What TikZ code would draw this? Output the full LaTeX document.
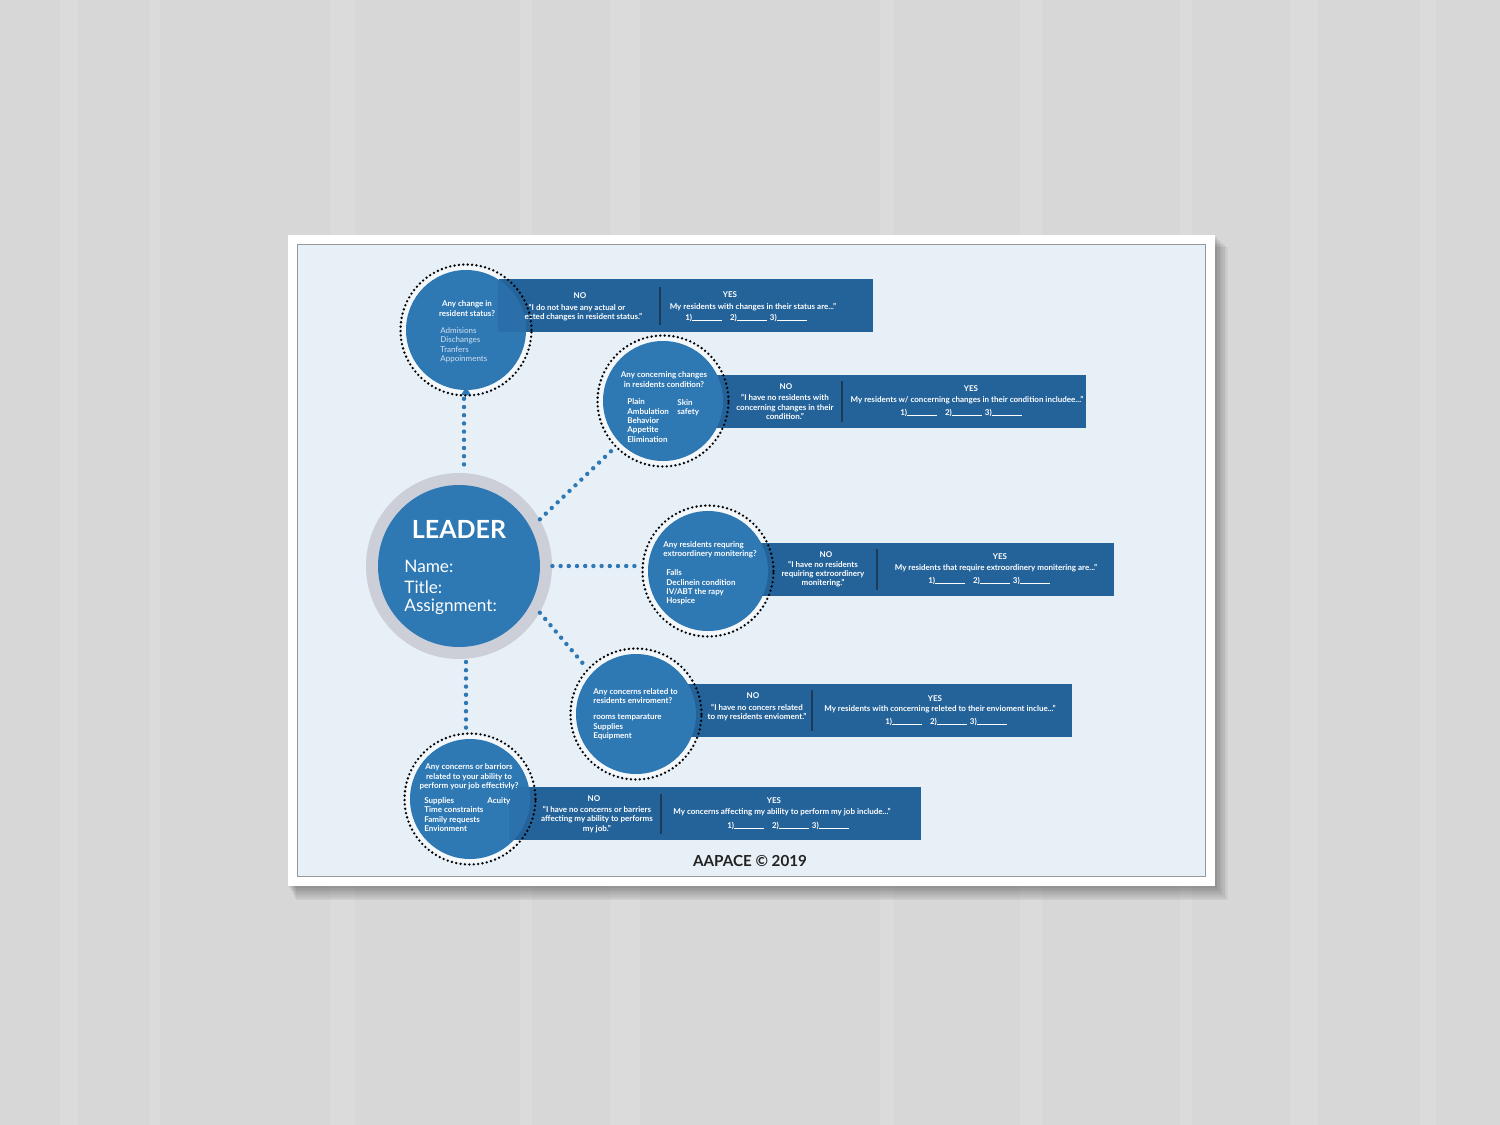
\documentclass[tikz,border=0pt]{standalone}
\usepackage{fontspec}
\setmainfont{Lato}
\usetikzlibrary{calc}
\definecolor{wood}{HTML}{D7D7D7}
\definecolor{woodlite}{HTML}{E2E2E2}
\definecolor{panel}{HTML}{E7EFF7}
\definecolor{cblue}{HTML}{2E78B4}
\definecolor{barblue}{HTML}{24639A}
\definecolor{ringgray}{HTML}{CDCFD8}
\definecolor{divline}{HTML}{1D3A56}
\definecolor{listlite}{HTML}{D2E2F2}
\definecolor{footer}{HTML}{222222}
\newcommand{\blanks}{1)\rule{15pt}{0.35pt}\hspace{4pt}2)\rule{15pt}{0.35pt}\hspace{1.5pt}3)\rule{15pt}{0.35pt}}
\begin{document}
\begin{tikzpicture}[x=0.5pt,y=-0.5pt,
 bluedisc/.style={circle,fill=cblue,minimum size=60pt,inner sep=0pt},
 gapdisc/.style={circle,fill=white!55!panel,minimum size=64pt,inner sep=0pt},
 dotring/.style={circle,draw=black,line width=1.3pt,dash pattern=on 0pt off 2.2pt,line cap=round,minimum size=65.5pt,inner sep=0pt},
 barbox/.style={fill=barblue,inner sep=0pt,minimum height=26.5pt},
 tx/.style={text=white,font=\fontsize{4}{4.7}\selectfont\bfseries,inner sep=0pt,align=center},
 txl/.style={tx,align=left,anchor=west},
 litelist/.style={text=listlite,font=\fontsize{4}{4.75}\selectfont,inner sep=0pt,align=left,anchor=west},
 divider/.style={draw=divline,line width=1pt},
 bluedots/.style={draw=cblue,line width=2.2pt,line cap=round,dash pattern=on 0pt off 4.1pt},
 ldrtx/.style={text=white,font=\fontsize{8.6}{10}\selectfont,inner sep=0pt,anchor=west}
]
% background
\fill[wood] (0,0) rectangle (1500,1125);
\foreach \xx/\ww in {60/18,150/10,330/25,520/12,610/30,880/14,1020/22,1180/12,1290/28,1420/16}
  \fill[woodlite,opacity=0.45] (\xx,0) rectangle (\xx+\ww,1125);
\useasboundingbox (0,0) rectangle (1500,1125);
% paper shadow
\foreach \k in {1,...,8}
  \fill[black,opacity=0.045] (288+\k,235+1.5*\k) rectangle (1215+1.6*\k,886+1.8*\k);
\fill[white] (288,235) rectangle (1215,886);
\filldraw[fill=panel,draw=gray!80,line width=0.5pt] (297,244) rectangle (1205,876);

% ---------- Leader
\node[circle,fill=ringgray,minimum size=93pt,inner sep=0pt] (Lr) at (459,566) {};
\node[circle,fill=cblue,minimum size=81pt,inner sep=0pt] (L) at (459,566) {};
\node[text=white,font=\fontsize{12.5}{14}\selectfont\bfseries,inner sep=0pt] (ldr) at (459,529) {LEADER};
\node[ldrtx] (nm) at (404,566) {Name:};
\node[ldrtx] (tl) at (404,587) {Title:};
\node[ldrtx] (as) at (404,607) {Assignment:};

% ---------- Circle 1
\node[gapdisc] (g1) at (466,330) {};
\node[barbox,minimum width=187pt] (b1) at (685.5,305.5) {};
\node[tx] (n1h) at (580,296) {NO};
\node[tx] (n1) at (577,312.5) {“I do not have any actual or\\expected changes in resident status.”};
\node[tx] (y1h) at (730,295) {YES};
\node[tx] (y1) at (753,307) {My residents with changes in their status are...”};
\node[tx] (y1b) at (746,318) {\blanks};
\draw[divider] (660,287) -- (660,325);
\node[bluedisc] (c1) at (466,330) {};
\begin{scope}\clip (466,330) circle[radius=60];
\fill[barblue,opacity=0.4] (b1.south west) rectangle (b1.north east);\end{scope}
\fill[cblue] (461,395) -- (466,387) -- (471,395) -- cycle;
\node[dotring] (r1) at (466,330) {};
\node[tx] (q1) at (467,308.5) {Any change in\\resident status?};
\node[litelist] (l1) at (440,345) {Admisions\\Dischanges\\Tranfers\\Appoinments};

% ---------- Circle 2
\node[gapdisc] (g2) at (663,401) {};
\node[barbox,minimum width=188pt] (b2) at (898,401.5) {};
\node[tx] (n2h) at (786,387) {NO};
\node[tx] (n2) at (785,407) {“I have no residents with\\concerning changes in their\\condition.”};
\node[tx] (y2h) at (971,389) {YES};
\node[tx] (y2) at (967,400) {My residents w/ concerning changes in their condition includee...”};
\node[tx] (y2b) at (961,413) {\blanks};
\draw[divider] (842,381) -- (842,422);
\node[bluedisc] (c2) at (663,401) {};
\node[dotring] (r2) at (663,401) {};
\node[tx] (q2) at (664,379.5) {Any concerning changes\\in residents condition?};
\node[txl] (l2) at (627,420.5) {Plain\\Ambulation\\Behavior\\Appetite\\Elimination};
\node[txl] (l2b) at (677,407.5) {Skin\\safety};

% ---------- Circle 3
\node[gapdisc] (g3) at (708,571) {};
\node[barbox,minimum width=180pt] (b3) at (934,569.5) {};
\node[tx] (n3h) at (826,555) {NO};
\node[tx] (n3) at (823,574) {“I have no residents\\requiring extroordinery\\monitering.”};
\node[tx] (y3h) at (1000,557) {YES};
\node[tx] (y3) at (996,568) {My residents that require extroordinery monitering are...”};
\node[tx] (y3b) at (989,581) {\blanks};
\draw[divider] (877,549) -- (877,590);
\node[bluedisc] (c3) at (708,571) {};
\node[dotring] (r3) at (708,571) {};
\node[txl] (q3) at (663,549.5) {Any residents requring\\extroordinery monitering?};
\node[txl] (l3) at (666,587.5) {Falls\\Declinein condition\\IV/ABT the rapy\\Hospice};

% ---------- Circle 4
\node[gapdisc] (g4) at (636,714) {};
\node[barbox,minimum width=195pt] (b4) at (877,710.5) {};
\node[tx] (n4h) at (753,696) {NO};
\node[tx] (n4) at (757,712.5) {“I have no concers related\\to my residents envioment.”};
\node[tx] (y4h) at (935,699) {YES};
\node[tx] (y4) at (940,709) {My residents with concerning releted to their envioment inclue...”};
\node[tx] (y4b) at (946,722) {\blanks};
\draw[divider] (812,690) -- (812,731);
\node[bluedisc] (c4) at (636,714) {};
\node[dotring] (r4) at (636,714) {};
\node[txl] (q4) at (593,696) {Any concerns related to\\residents enviroment?};
\node[txl] (l4) at (593,727) {rooms temparature\\Supplies\\Equipment};

% ---------- Circle 5
\node[gapdisc] (g5) at (470,799) {};
\node[barbox,minimum width=206pt] (b5) at (715,813.5) {};
\node[tx] (n5h) at (594,799) {NO};
\node[tx] (n5) at (597,819.5) {“I have no concerns or barriers\\affecting my ability to performs\\my job.”};
\node[tx] (y5h) at (774,801) {YES};
\node[tx] (y5) at (782,812) {My concerns affecting my ability to perform my job include...”};
\node[tx] (y5b) at (788,826) {\blanks};
\draw[divider] (661,794) -- (661,834);
\node[bluedisc] (c5) at (470,799) {};
\begin{scope}\clip (470,799) circle[radius=60];
\fill[barblue,opacity=0.25] (b5.south west) rectangle (b5.north east);\end{scope}
\node[dotring] (r5) at (470,799) {};
\node[tx] (q5) at (469,777) {Any concerns or barriors\\related to your ability to\\perform your job effectivly?};
\node[txl] (l5) at (424,814.5) {Supplies\\Time constraints\\Family requests\\Envionment};
\node[txl] (l5b) at (487,801) {Acuity};

% ---------- connectors
\draw[bluedots] ($(r1.south)+(-2,2)$) -- (464,470);
\draw[bluedots] (Lr.30) -- (r2.224);
\draw[bluedots] (Lr.east) -- (Lr.east -| r3.west);
\draw[bluedots] (Lr.-30) -- (r4.137);
\draw[bluedots] (466,662) -- ($(r5.north)+(-4,2)$);

% footer
\node[text=footer,font=\fontsize{7.6}{9}\selectfont\bfseries,inner sep=0pt] (ft) at (750,861) {AAPACE © 2019};
\end{tikzpicture}
\end{document}
